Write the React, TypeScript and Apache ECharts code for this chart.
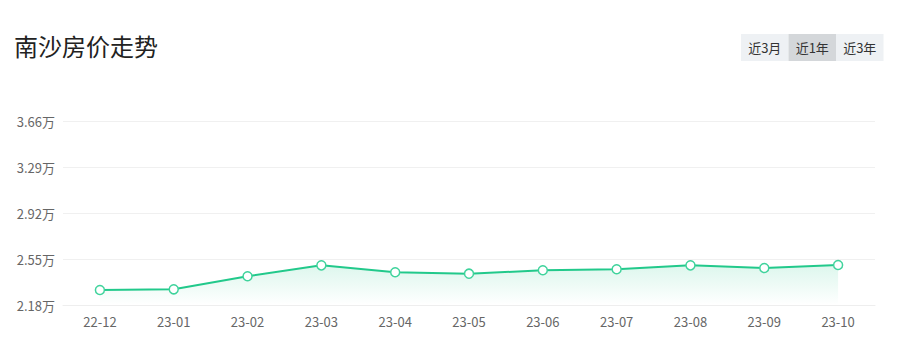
import React, { useEffect, useRef } from "react";
import * as echarts from "echarts";

const categories = ["22-12", "23-01", "23-02", "23-03", "23-04", "23-05", "23-06", "23-07", "23-08", "23-09", "23-10"];
const prices = [2.301, 2.306, 2.411, 2.499, 2.443, 2.432, 2.459, 2.467, 2.499, 2.478, 2.502];
const yTicks = [2.18, 2.55, 2.92, 3.29, 3.66];
const buttons = ["近3月", "近1年", "近3年"];
const activeButton = 1;

const FONT = "'Noto Sans CJK SC', 'Noto Sans', sans-serif";

export default function App() {
  const ref = useRef<HTMLDivElement>(null);
  useEffect(() => {
    document.body.style.margin = "0";
    const chart = echarts.init(ref.current!, null, { renderer: "svg" });
    const btnW = 47.5;
    const btnX = 741;
    chart.setOption({
      animation: false,
      textStyle: { fontFamily: FONT },
      title: {
        text: "南沙房价走势",
        left: 9,
        top: 28,
        textStyle: { fontSize: 24, fontWeight: "normal", color: "#222", fontFamily: FONT },
      },
      graphic: buttons.map((b, i) => ({
        type: "group",
        x: btnX + i * btnW,
        y: 34,
        children: [
          {
            type: "rect",
            shape: { x: 0, y: 0, width: btnW, height: 27 },
            style: { fill: i === activeButton ? "#d4d7da" : "#eef1f4" },
          },
          {
            type: "text",
            x: btnW / 2,
            y: 13.5,
            style: {
              text: b,
              fill: "#333",
              font: `13px ${FONT}`,
              align: "center",
              verticalAlign: "middle",
            },
          },
        ],
      })),
      grid: { left: 63, right: 31, top: 121, bottom: 55 },
      xAxis: {
        type: "category",
        data: categories,
        boundaryGap: true,
        axisLine: { show: true, lineStyle: { color: "#eeeeee" } },
        axisTick: { show: false },
        axisLabel: { color: "#666", fontSize: 13, margin: 10, fontFamily: FONT },
      },
      yAxis: {
        type: "value",
        min: 2.18,
        max: 3.66,
        axisLine: { show: false },
        axisTick: { show: false, customValues: yTicks },
        axisLabel: {
          customValues: yTicks,
          color: "#666",
          fontSize: 13,
          margin: 8,
          fontFamily: FONT,
          formatter: (v: number) => v.toFixed(2) + "万",
        },
        splitLine: { show: true, lineStyle: { color: "#f0f0f0" } },
      },
      series: [
        {
          type: "line",
          data: prices,
          symbol: "circle",
          symbolSize: 9,
          showSymbol: true,
          lineStyle: { color: "#22c98b", width: 2 },
          itemStyle: { color: "#ffffff", borderColor: "#3fd39c", borderWidth: 1.5 },
          areaStyle: {
            color: new echarts.graphic.LinearGradient(0, 0, 0, 1, [
              { offset: 0, color: "rgba(34,201,139,0.22)" },
              { offset: 1, color: "rgba(34,201,139,0.0)" },
            ]),
          },
        },
      ],
    });
    return () => chart.dispose();
  }, []);
  return <div ref={ref} style={{ width: 906, height: 360 }} />;
}
